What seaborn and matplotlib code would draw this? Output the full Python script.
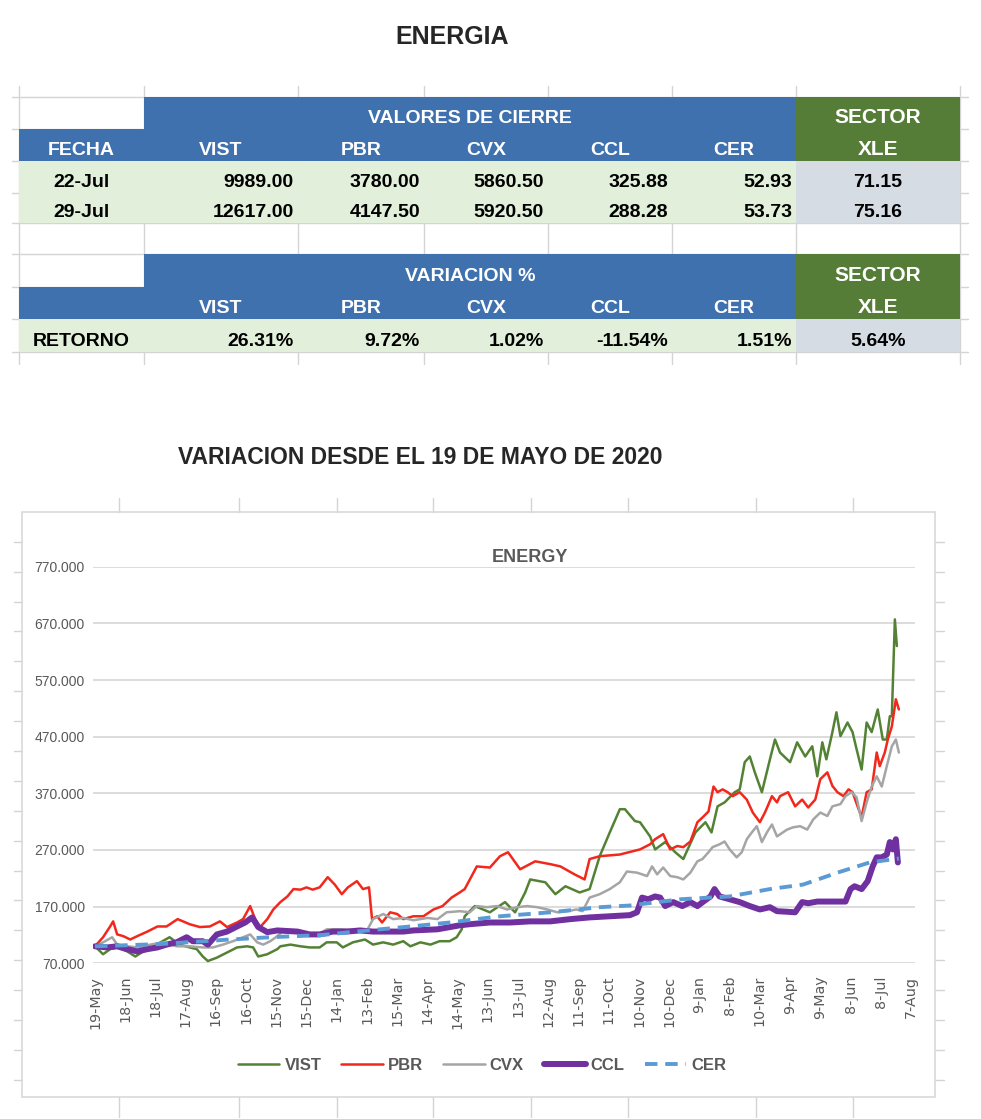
import pandas as pd
import matplotlib
matplotlib.use("Agg")
import matplotlib.pyplot as plt
from matplotlib.patches import Rectangle
import seaborn as sns

# ---- tabla de cierre ----
col_names = ["FECHA", "VIST", "PBR", "CVX", "CCL", "CER"]
fechas = ["22-Jul", "29-Jul"]
cierre_22jul = [9989.00, 3780.00, 5860.50, 325.88, 52.93]
cierre_29jul = [12617.00, 4147.50, 5920.50, 288.28, 53.73]
xle_cierre = [71.15, 75.16]
retorno = [26.31, 9.72, 1.02, -11.54, 1.51]
xle_retorno = 5.64

# ---- series del grafico (dias desde 19-May-2020, base 100) ----
vist_days = [0, 8, 15, 22, 32, 40, 48, 58, 67, 74, 84, 94, 101, 107, 112, 121, 131, 141, 151, 157,
             162, 171, 181, 184, 194, 204, 213, 223, 230, 240, 246, 256, 268, 276, 286, 296, 306, 313,
             323, 333, 342, 352, 359, 364, 367, 377, 392, 407, 417, 427, 432, 447, 457, 467, 481, 491,
             501, 511, 521, 526, 536, 541, 551, 556, 566, 576, 584, 596, 606, 612, 618, 625, 635, 640,
             645, 650, 655, 662, 670, 675, 680, 690, 697, 705, 712, 717, 722, 726, 732, 736, 740, 747,
             752, 756, 761, 766, 771, 777, 782, 786, 789, 791, 794, 796]
vist_vals = [100, 86, 95, 98, 91, 82, 91, 100, 109, 116, 103, 98, 95, 82, 74, 80, 89, 98, 100, 98,
             82, 86, 95, 100, 103, 100, 98, 98, 107, 107, 98, 107, 112, 103, 107, 103, 109, 100,
             107, 103, 109, 109, 116, 130, 153, 171, 160, 178, 160, 195, 218, 213, 192, 206, 195, 201,
             259, 301, 342, 342, 321, 319, 294, 271, 284, 266, 254, 301, 319, 301, 347, 354, 372, 377,
             425, 435, 407, 372, 430, 465, 442, 425, 460, 435, 453, 400, 460, 430, 478, 513, 471, 495,
             478, 448, 412, 495, 478, 518, 465, 465, 506, 506, 677, 630]

pbr_days = [0, 8, 15, 18, 22, 28, 35, 42, 52, 62, 71, 82, 94, 104, 114, 124, 131, 141, 147, 154,
            159, 164, 171, 177, 184, 191, 197, 204, 210, 216, 223, 231, 238, 245, 251, 260, 266, 272,
            275, 280, 285, 293, 300, 306, 316, 326, 336, 345, 354, 362, 367, 379, 392, 402, 410, 422,
            437, 452, 462, 476, 486, 491, 501, 521, 541, 551, 556, 564, 571, 578, 584, 591, 598, 604,
            609, 614, 618, 623, 628, 633, 640, 647, 653, 660, 665, 672, 677, 680, 688, 695, 702, 708,
            715, 720, 727, 732, 737, 743, 748, 752, 757, 761, 766, 771, 776, 779, 784, 787, 791, 795, 798]
pbr_vals = [100, 116, 135, 144, 121, 118, 112, 118, 126, 135, 135, 148, 139, 134, 135, 144, 134, 142, 148, 171,
            148, 134, 148, 165, 178, 188, 201, 200, 204, 200, 204, 222, 209, 192, 204, 215, 201, 204,
            148, 153, 142, 160, 157, 148, 153, 153, 165, 171, 186, 195, 201, 241, 239, 259, 266, 236,
            250, 245, 241, 227, 218, 254, 259, 262, 271, 280, 289, 298, 271, 277, 275, 285, 319, 329,
            338, 382, 372, 377, 372, 365, 372, 359, 336, 319, 336, 365, 354, 365, 372, 347, 359, 345,
            359, 395, 407, 383, 372, 365, 377, 372, 347, 328, 372, 377, 442, 418, 442, 465, 488, 536, 518]

cvx_days = [0, 8, 17, 22, 32, 42, 55, 68, 81, 94, 107, 117, 127, 137, 147, 154, 161, 167, 174, 181,
            187, 197, 210, 223, 230, 246, 258, 270, 276, 286, 296, 306, 316, 330, 340, 349, 362, 372,
            379, 389, 399, 409, 419, 429, 439, 449, 459, 469, 478, 484, 491, 501, 511, 521, 528, 538,
            548, 553, 558, 564, 571, 578, 584, 591, 598, 603, 609, 613, 620, 625, 630, 637, 642, 647,
            652, 657, 662, 667, 672, 677, 687, 693, 700, 707, 713, 720, 727, 732, 740, 745, 751, 756,
            761, 766, 771, 776, 781, 786, 791, 795, 798]
cvx_vals = [100, 107, 116, 103, 100, 98, 103, 107, 100, 100, 98, 98, 103, 109, 116, 121, 107, 103, 109, 118,
            128, 125, 120, 122, 130, 130, 128, 128, 148, 157, 148, 150, 146, 150, 148, 160, 162, 160,
            171, 169, 171, 165, 169, 171, 169, 165, 160, 162, 165, 162, 186, 192, 201, 213, 232, 230,
            224, 241, 227, 239, 224, 222, 218, 230, 250, 254, 266, 275, 280, 285, 271, 257, 266, 289,
            301, 312, 284, 301, 315, 294, 306, 310, 312, 306, 324, 336, 330, 347, 351, 365, 372, 363,
            321, 354, 382, 400, 382, 418, 453, 465, 442]

ccl_days = [0, 12, 22, 32, 42, 52, 62, 71, 81, 91, 97, 107, 112, 121, 131, 141, 149, 156, 162, 171,
            181, 201, 213, 223, 236, 250, 263, 276, 290, 306, 316, 340, 362, 372, 392, 412, 432, 452,
            472, 491, 511, 531, 538, 543, 549, 556, 561, 566, 574, 583, 591, 598, 604, 611, 615, 620,
            630, 640, 650, 660, 670, 677, 687, 695, 702, 708, 717, 727, 737, 745, 750, 754, 761, 767,
            772, 776, 781, 786, 789, 792, 795, 797]
ccl_vals = [100, 98, 100, 95, 91, 95, 98, 103, 107, 116, 109, 109, 103, 121, 126, 135, 142, 151, 134, 125,
            128, 126, 121, 121, 126, 126, 128, 126, 126, 126, 128, 130, 137, 139, 142, 142, 144, 144,
            148, 151, 153, 155, 160, 186, 183, 188, 186, 171, 178, 171, 178, 171, 179, 188, 201, 188,
            183, 178, 171, 165, 169, 162, 161, 160, 178, 176, 179, 179, 179, 179, 201, 206, 201, 215,
            241, 257, 257, 262, 284, 271, 289, 248]

cer_days = [0, 65, 134, 174, 226, 253, 283, 313, 352, 402, 452, 501, 531, 581, 630, 670, 703, 737, 769, 798]
cer_vals = [100, 104, 112, 116, 120, 125, 130, 135, 142, 153, 160, 169, 172, 183, 188, 201, 209, 230, 248, 255]

tick_labels = ["19-May", "18-Jun", "18-Jul", "17-Aug", "16-Sep", "16-Oct", "15-Nov", "15-Dec",
               "14-Jan", "13-Feb", "15-Mar", "14-Apr", "14-May", "13-Jun", "13-Jul", "12-Aug",
               "11-Sep", "11-Oct", "10-Nov", "10-Dec", "9-Jan", "8-Feb", "10-Mar", "9-Apr",
               "9-May", "8-Jun", "8-Jul", "7-Aug"]
y_ticks = [70, 170, 270, 370, 470, 570, 670, 770]

start = pd.Timestamp("2020-05-19")

sns.set_theme(style="white")
plt.rcParams["font.family"] = ["Liberation Sans", "DejaVu Sans"]

fig = plt.figure(figsize=(9.81, 11.19), dpi=100)
bg = fig.add_axes([0, 0, 1, 1])
bg.set_xlim(0, 981)
bg.set_ylim(1119, 0)
bg.axis("off")

BLUE = "#3F71AE"
GREEN = "#567D37"
LGREEN = "#E2EFDA"
LGREY = "#D6DCE4"
SHEET = "#D4D4D4"

col_edges = [19, 144, 298, 424, 548, 672, 796, 960]
row_edges = [97, 129, 161, 193, 223, 254, 287, 319, 352]

# lineas de la hoja
for x in col_edges:
    bg.plot([x, x], [86, 364], color=SHEET, lw=1, zorder=0)
for y in row_edges:
    bg.plot([12, 968], [y, y], color=SHEET, lw=1, zorder=0)


def cell(c0, c1, r, color):
    x0, x1 = col_edges[c0], col_edges[c1]
    y0, y1 = row_edges[r], row_edges[r + 1]
    bg.add_patch(Rectangle((x0, y0), x1 - x0, y1 - y0, color=color, lw=0, zorder=1))


def txt(x, r, s, ha="center", color="black", size=14):
    bg.text(x, row_edges[r + 1] - 6, s, ha=ha, va="baseline", fontsize=size,
            fontweight="bold", color=color, zorder=3)


def center(c):
    return (col_edges[c] + col_edges[c + 1]) / 2


# bloque valores de cierre
cell(1, 6, 0, BLUE)
cell(6, 7, 0, GREEN)
cell(0, 6, 1, BLUE)
cell(6, 7, 1, GREEN)
for r in (2, 3):
    cell(0, 6, r, LGREEN)
    cell(6, 7, r, LGREY)
txt((col_edges[1] + col_edges[6]) / 2, 0, "VALORES DE CIERRE", color="white")
txt(center(6), 0, "SECTOR", color="white", size=15)
for i, name in enumerate(col_names):
    txt(center(i), 1, name, color="white")
txt(center(6), 1, "XLE", color="white", size=15)
for r, (f, vals, xle) in enumerate(zip(fechas, [cierre_22jul, cierre_29jul], xle_cierre)):
    txt(center(0), r + 2, f)
    for i, v in enumerate(vals):
        txt(col_edges[i + 2] - 4, r + 2, f"{v:.2f}", ha="right")
    txt(center(6), r + 2, f"{xle:.2f}")

# bloque variacion
cell(1, 6, 5, BLUE)
cell(6, 7, 5, GREEN)
cell(0, 6, 6, BLUE)
cell(6, 7, 6, GREEN)
cell(0, 6, 7, LGREEN)
cell(6, 7, 7, LGREY)
txt((col_edges[1] + col_edges[6]) / 2, 5, "VARIACION %", color="white")
txt(center(6), 5, "SECTOR", color="white", size=15)
for i, name in enumerate(col_names[1:]):
    txt(center(i + 1), 6, name, color="white")
txt(center(6), 6, "XLE", color="white", size=15)
txt(center(0), 7, "RETORNO")
for i, v in enumerate(retorno):
    txt(col_edges[i + 2] - 4, 7, f"{v:.2f}%", ha="right")
txt(center(6), 7, f"{xle_retorno:.2f}%")

# titulos
bg.text(452, 44, "ENERGIA", ha="center", va="baseline", fontsize=18, fontweight="bold")
bg.text(420, 464, "VARIACION DESDE EL 19 DE MAYO DE 2020", ha="center", va="baseline",
        fontsize=16.5, fontweight="bold")

# marco del grafico y celdas de la hoja alrededor
bg.add_patch(Rectangle((22, 512), 913, 585, fill=False, ec="#D9D9D9", lw=1.2, zorder=1))
for x in [119, 239, 337, 433, 531, 628, 756, 853]:
    bg.plot([x, x], [498, 512], color=SHEET, lw=1, zorder=0)
    bg.plot([x, x], [1097, 1117], color=SHEET, lw=1, zorder=0)
y = 541.7
while y < 1097:
    bg.plot([14, 22], [y, y], color=SHEET, lw=1, zorder=0)
    bg.plot([935, 944], [y, y], color=SHEET, lw=1, zorder=0)
    y += 29.9
bg.text(529.5, 562, "ENERGY", ha="center", va="baseline", fontsize=13, fontweight="bold",
        color="#595959")

# ---- grafico de lineas ----
ax = fig.add_axes([93 / 981, 1 - 963.3 / 1119, (915 - 93) / 981, (963.3 - 566.7) / 1119])
ax.patch.set_alpha(0)

styles = {
    "VIST": ("#548235", 1.8),
    "PBR": ("#F2281C", 1.8),
    "CVX": ("#A5A5A5", 1.8),
    "CCL": ("#7030A0", 4.3),
    "CER": ("#5B9BD5", 2.8),
}
data = {
    "VIST": (vist_days, vist_vals),
    "PBR": (pbr_days, pbr_vals),
    "CVX": (cvx_days, cvx_vals),
    "CCL": (ccl_days, ccl_vals),
    "CER": (cer_days, cer_vals),
}
for name, (d, v) in data.items():
    color, lw = styles[name]
    dates = start + pd.to_timedelta(d, unit="D")
    sns.lineplot(x=dates, y=v, ax=ax, color=color, linewidth=lw, label=name)
    if name == "CER":
        ax.lines[-1].set_dashes((3.2, 2.0))

ax.set_xlim(start - pd.Timedelta(days=2), start + pd.Timedelta(days=814))
ax.set_ylim(70, 770)
ax.set_yticks(y_ticks)
ax.set_yticklabels([f"{t:.3f}" for t in y_ticks], fontsize=10, color="#595959")
ticks = pd.date_range(start, periods=len(tick_labels), freq="30D")
ax.set_xticks(ticks)
ax.set_xticklabels(tick_labels, rotation=90, family="DejaVu Sans", fontsize=10.3, color="#595959")
ax.tick_params(axis="both", length=0)
ax.tick_params(axis="y", pad=6)
ax.tick_params(axis="x", pad=9)
ax.grid(axis="y", color="#D9D9D9", lw=1.3)
ax.grid(axis="x", visible=False)
ax.set_xlabel("")
ax.set_ylabel("")
for s in ax.spines.values():
    s.set_visible(False)

handles, labels = ax.get_legend_handles_labels()
ax.legend(handles, labels, loc="center", bbox_to_anchor=(482 / 981, 1 - 1065 / 1119),
          bbox_transform=fig.transFigure, ncol=5, frameon=False, handlelength=2.5,
          handletextpad=0.3, columnspacing=1.2,
          prop={"weight": "bold", "size": 12}, labelcolor="#595959")

fig.savefig("out.png", dpi=100)
